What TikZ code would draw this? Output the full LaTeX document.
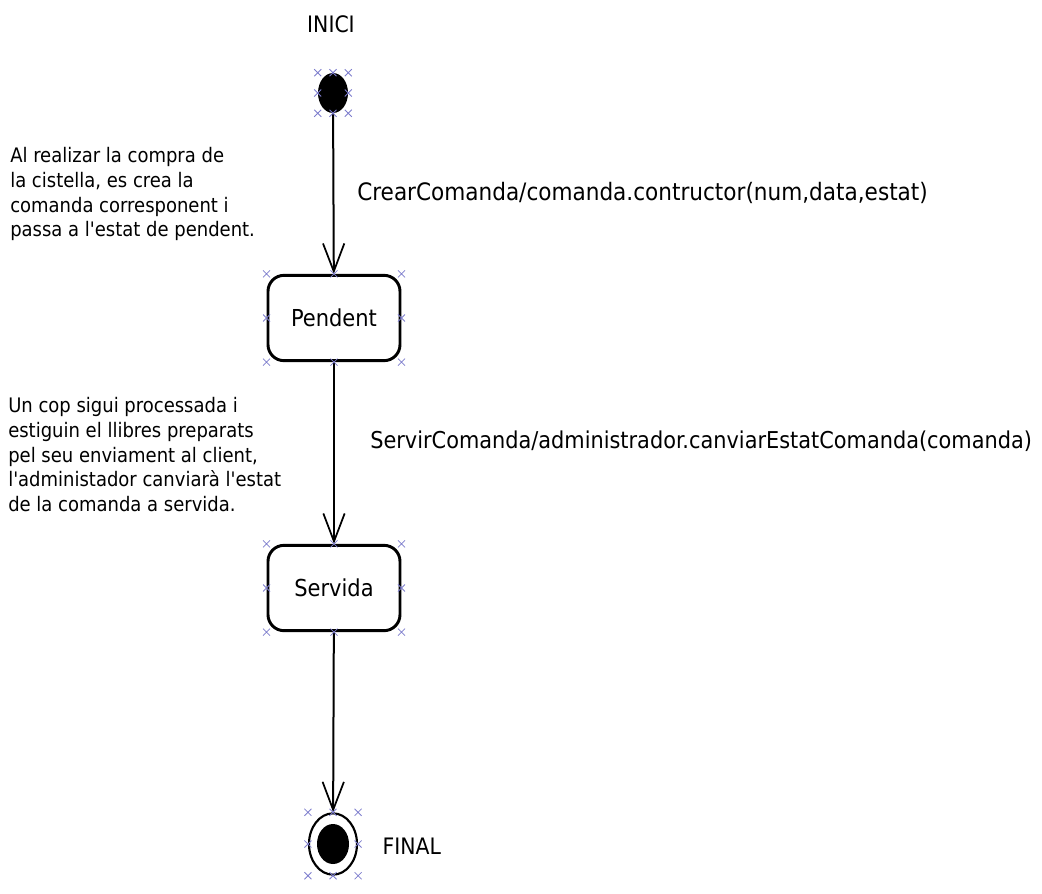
\documentclass[tikz,border=0pt]{standalone}
\usepackage{fontspec}
\setmainfont{DejaVu Sans Condensed}
\usetikzlibrary{arrows.meta,shapes.geometric}
\definecolor{selx}{RGB}{125,125,205}
\tikzset{
  estat/.style={draw,line width=2.2pt,rounded corners=12pt,minimum width=99pt,minimum height=64pt,font=\fontsize{17.5}{20}\selectfont},
  trans/.style={line width=1.5pt,-{Straight Barb[length=21pt,width=16pt,line width=1.3pt]}},
  etiq/.style={anchor=west,inner sep=0pt,font=\fontsize{18}{20}\selectfont},
  nota/.style={anchor=north west,inner sep=0pt,align=left,font=\fontsize{15}{18.6}\selectfont},
  selmark/.pic={\draw[selx,line width=0.6pt] (-3.5,-3.5)--(3.5,3.5) (-3.5,3.5)--(3.5,-3.5);}
}
% marques de seleccio al voltant d'un node
\newcommand{\marques}[1]{%
  \foreach \h/\v in {west/north,center/north,east/north,west/center,east/center,west/south,center/south,east/south}
    \pic at (#1.\v -| #1.\h) {selmark};}
\begin{document}
\begin{tikzpicture}[x=0.75pt,y=-0.75pt]
\useasboundingbox (0,0) rectangle (1042,893);
% estats
\node[fill,ellipse,minimum width=22.5pt,minimum height=30pt,inner sep=0pt] (ini) at (333,93) {};
\node[font=\fontsize{17}{20}\selectfont] (tini) at (331,24) {INICI};
\node[estat] (pend) at (334,318) {Pendent};
\node[estat] (serv) at (334,588) {Servida};
\node[draw,ellipse,line width=1.6pt,minimum width=36pt,minimum height=46pt,inner sep=0pt] (fin) at (333,844) {};
\node[fill,ellipse,minimum width=24pt,minimum height=30pt,inner sep=0pt] (fdot) at (fin) {};
\node[font=\fontsize{17}{20}\selectfont,anchor=west] (tfin) at (378,846) {FINAL};
% transicions
\draw[trans] (ini) -- (pend);
\draw[trans] (pend) -- (serv);
\draw[trans] (serv) -- (fin);
\node[etiq] (t1) at (357,193) {CrearComanda/comanda.contructor(num,data,estat)};
\node[etiq,font=\fontsize{17.4}{20}\selectfont] (t2) at (370,441) {ServirComanda/administrador.canviarEstatComanda(comanda)};
% notes
\node[nota] (n1) at (10,147) {Al realizar la compra de\\la cistella, es crea la\\comanda corresponent i\\passa a l\textquotesingle estat de pendent.};
\node[nota] (n2) at (8,397) {Un cop sigui processada i\\estiguin el llibres preparats\\pel seu enviament al client,\\l\textquotesingle administador canviarà l\textquotesingle estat\\de la comanda a servida.};
% seleccio
\marques{ini}
\marques{pend}
\marques{serv}
\marques{fin}
\end{tikzpicture}
\end{document}
